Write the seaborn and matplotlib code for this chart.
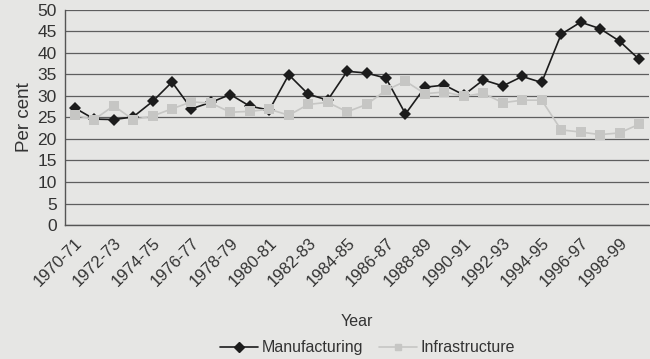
import numpy as np
import pandas as pd
import seaborn as sns
import matplotlib.pyplot as plt

# data
years = ["1970-71", "1971-72", "1972-73", "1973-74", "1974-75", "1975-76",
         "1976-77", "1977-78", "1978-79", "1979-80", "1980-81", "1981-82",
         "1982-83", "1983-84", "1984-85", "1985-86", "1986-87", "1987-88",
         "1988-89", "1989-90", "1990-91", "1991-92", "1992-93", "1993-94",
         "1994-95", "1995-96", "1996-97", "1997-98", "1998-99", "1999-00"]
manufacturing = [27.2, 24.6, 24.5, 25.1, 28.7, 33.2, 27.0, 28.5, 30.3, 27.6,
                 26.7, 34.9, 30.4, 29.0, 35.7, 35.3, 34.1, 25.8, 32.0, 32.5,
                 30.2, 33.7, 32.3, 34.5, 33.1, 44.3, 47.1, 45.6, 42.7, 38.5]
infrastructure = [25.5, 24.5, 27.7, 24.5, 25.3, 27.0, 28.6, 28.3, 26.2, 26.4,
                  26.9, 25.5, 28.0, 28.5, 26.3, 28.0, 31.3, 33.4, 30.5, 30.9,
                  29.9, 30.6, 28.4, 29.0, 29.0, 22.1, 21.6, 21.0, 21.4, 23.4]

df = pd.DataFrame({"Year": years, "Manufacturing": manufacturing,
                   "Infrastructure": infrastructure})
long_df = df.melt(id_vars="Year", var_name="Series", value_name="Per cent")
long_df["pos"] = long_df["Year"].map({y: i for i, y in enumerate(years)})

sns.set_theme(style="white")
plt.rcParams["font.family"] = ["Liberation Sans", "DejaVu Sans"]

bg = "#e6e6e4"
fig = plt.figure(figsize=(6.5, 3.59), dpi=100, facecolor=bg)
ax = fig.add_axes([0.1, 0.373, 0.898, 0.6])
ax.set_facecolor(bg)

sns.lineplot(data=long_df, x="pos", y="Per cent", hue="Series", style="Series",
             palette={"Manufacturing": "#1c1c1c", "Infrastructure": "#c6c6c4"},
             markers={"Manufacturing": "D", "Infrastructure": "s"},
             dashes=False, markersize=6.5, linewidth=1.2, markeredgewidth=0,
             ax=ax, legend=False)

ax.set_xlim(-0.5, len(years) - 0.5)
ax.set_ylim(0, 50)
ax.set_yticks(np.arange(0, 51, 5))
ax.yaxis.grid(True, color="#5e5e5e", linewidth=0.9)
ax.set_axisbelow(True)

ax.set_xticks(np.arange(0.5, len(years) - 0.5, 1), minor=True)
ax.set_xticks(np.arange(0, len(years), 2))
ax.set_xticklabels(years[::2], rotation=45, ha="right", rotation_mode="anchor",
                   fontsize=12, color="#333333")
ax.tick_params(axis="x", which="major", length=0, pad=7)
ax.tick_params(axis="x", which="minor", length=4, color="#555555", direction="out")
ax.tick_params(axis="y", length=4, color="#555555", labelsize=12.5,
               labelcolor="#333333", pad=2)

for side in ["top", "right"]:
    ax.spines[side].set_visible(False)
for side in ["left", "bottom"]:
    ax.spines[side].set_color("#555555")
    ax.spines[side].set_linewidth(1.0)

ax.set_xlabel("Year", fontsize=11.5, color="#333333", labelpad=18)
ax.set_ylabel("Per cent", fontsize=13.5, color="#333333", labelpad=3)

handles = [plt.Line2D([], [], color="#1c1c1c", marker="D", markersize=5, lw=1.2),
           plt.Line2D([], [], color="#c6c6c4", marker="s", markersize=5, lw=1.2)]
fig.legend(handles, ["Manufacturing", "Infrastructure"], loc="lower center",
           bbox_to_anchor=(0.565, -0.03), ncol=2, frameon=False, fontsize=11.5,
           handlelength=2.4, columnspacing=1.0, handletextpad=0.2,
           labelcolor="#333333")

fig.savefig("out.png", dpi=100, facecolor=bg)
